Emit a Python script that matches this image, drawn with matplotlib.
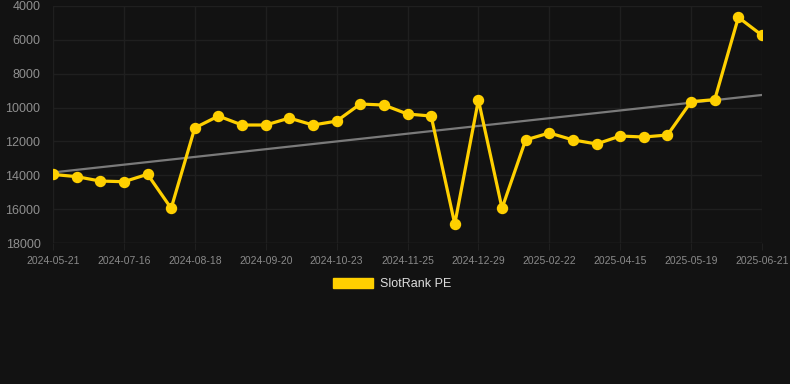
import numpy as np
import matplotlib.pyplot as plt

plt.rcParams['font.family'] = ['Liberation Sans', 'DejaVu Sans']

# SlotRank PE over time (lower rank number = better, axis inverted)
values = [13950, 14080, 14340, 14380, 13940, 15950, 11200, 10500, 11030, 11030,
          10620, 11030, 10800, 9790, 9850, 10380, 10500, 16880, 9550, 15950,
          11910, 11500, 11910, 12150, 11680, 11740, 11620, 9650, 9530, 4670, 5730]
tick_pos = [0, 3, 6, 9, 12, 15, 18, 21, 24, 27, 30]
tick_labels = ["2024-05-21", "2024-07-16", "2024-08-18", "2024-09-20", "2024-10-23",
               "2024-11-25", "2024-12-29", "2025-02-22", "2025-04-15", "2025-05-19",
               "2025-06-21"]
y_ticks = [4000, 6000, 8000, 10000, 12000, 14000, 16000, 18000]

bg = "#121212"
gold = "#FFD000"

fig = plt.figure(figsize=(7.9, 3.84), dpi=100, facecolor=bg)
ax = fig.add_axes([53 / 790, 1 - 243 / 384, 709 / 790, 237 / 384])
ax.set_facecolor(bg)

x = np.arange(len(values))

# trend line (least squares)
k, b = np.polyfit(x, values, 1)
ax.plot(x, k * x + b, color="#7a7a7a", lw=1.6, zorder=2)

ax.plot(x, values, color=gold, lw=2.3, marker="o", ms=7.2, zorder=3,
        label="SlotRank PE")

ax.set_xlim(0, len(values) - 1)
ax.set_ylim(18000, 4000)
ax.set_yticks(y_ticks)
ax.set_xticks(tick_pos)
ax.set_xticklabels(tick_labels)

ax.grid(True, color="#1f1f1f", lw=1)
for s in ax.spines.values():
    s.set_visible(False)
ax.tick_params(axis="y", length=0, colors="#8f8f8f", labelsize=9, pad=9)
ax.tick_params(axis="x", length=5, color="#1f1f1f", colors="#8a8a8a",
               labelsize=7.5, pad=4)
ax.axhline(18000, color="#2a2a2a", lw=1, zorder=1)

leg = fig.legend(handles=[plt.Rectangle((0, 0), 1, 1, color=gold)],
                 labels=["SlotRank PE"], loc="center",
                 bbox_to_anchor=(392 / 790, 1 - 284 / 384), frameon=False,
                 fontsize=9, handlelength=3.2, handleheight=0.95,
                 handletextpad=0.5)
for t in leg.get_texts():
    t.set_color("#dddddd")

fig.savefig("out.png", dpi=100, facecolor=bg)
